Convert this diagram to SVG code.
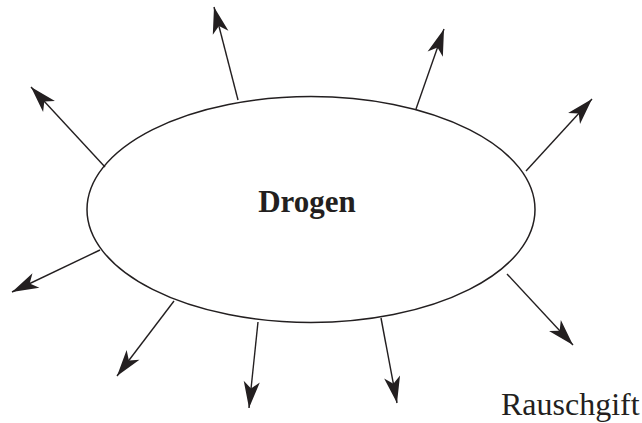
<svg xmlns="http://www.w3.org/2000/svg" width="642" height="423" viewBox="0 0 642 423">
<style>
.e{fill:#fff;stroke:#231f20;stroke-width:1.5}
.c line{stroke:#231f20;stroke-width:1.4}
.t{font-family:"Liberation Serif","Times New Roman",serif;fill:#231f20}
</style>
<defs>
<marker id="ah" markerUnits="userSpaceOnUse" markerWidth="30" markerHeight="20" viewBox="-24 -8 26 16" refX="0" refY="0" orient="auto">
<path d="M0,0 L-23,-7 L-17,0 L-23,7 Z" fill="#231f20"/>
</marker>
</defs>
<rect width="642" height="423" fill="#fff"/>
<g id="drogen">
<ellipse class="e" cx="311" cy="209.5" rx="224" ry="113"/>
<text class="t" x="307" y="212" font-size="31" font-weight="bold" text-anchor="middle">Drogen</text>
</g>
<g class="c" id="connectors" marker-end="url(#ah)">
<line x1="238" y1="100" x2="214" y2="7" marker-end="url(#ah)"/>
<line x1="416" y1="109" x2="444" y2="29" marker-end="url(#ah)"/>
<line x1="526" y1="171" x2="592" y2="99" marker-end="url(#ah)"/>
<line x1="507" y1="274" x2="573" y2="345" marker-end="url(#ah)"/>
<line x1="381" y1="318" x2="397" y2="403" marker-end="url(#ah)"/>
<line x1="258" y1="322" x2="249" y2="408" marker-end="url(#ah)"/>
<line x1="174" y1="301" x2="117" y2="376" marker-end="url(#ah)"/>
<line x1="100" y1="250" x2="12" y2="292" marker-end="url(#ah)"/>
<line x1="105" y1="167" x2="31" y2="87" marker-end="url(#ah)"/>
</g>
<g id="rauschgift">
<text class="t" x="501" y="415" font-size="32">Rauschgift</text>
</g>
</svg>
